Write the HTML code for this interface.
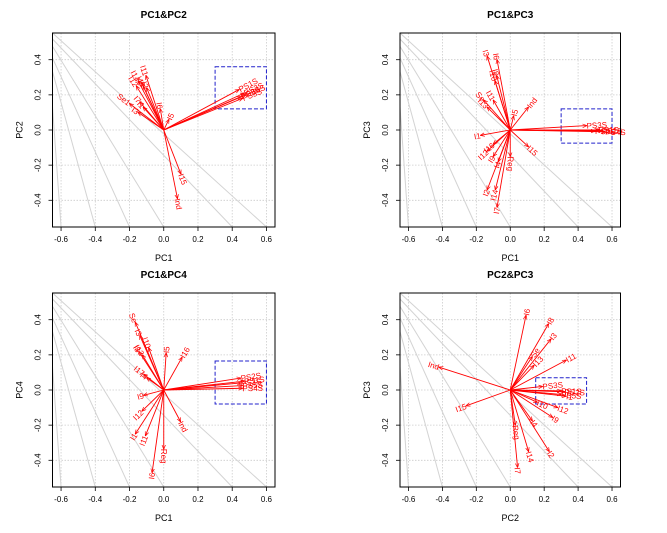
<!DOCTYPE html>
<html><head><meta charset="utf-8"><style>
html,body{margin:0;padding:0;background:#fff;}
svg{display:block;font-family:"Liberation Sans",Arial,sans-serif;}
</style></head><body>
<svg id="s" width="667" height="533" viewBox="0 0 667 533" xmlns="http://www.w3.org/2000/svg">
<defs><marker id="ah" viewBox="0 0 10 10" refX="9" refY="5" markerWidth="5" markerHeight="5" orient="auto"><path d="M0,1 L10,5 L0,9" fill="none" stroke="red" stroke-width="1.5"/></marker></defs>
</svg>
<script>
var S=document.getElementById('s'),NS='http://www.w3.org/2000/svg';
function el(t,a,txt){var e=document.createElementNS(NS,t);for(var k in a)e.setAttribute(k,a[k]);if(txt!=null)e.textContent=txt;S.appendChild(e);return e;}
var panels=[
{x0:52.5,x1:275,y0:33,y1:227,title:'PC1&PC2',xl:'PC1',yl:'PC2',box:[0.3,0.6,0.12,0.36],
arr:[[-0.104,0.31,'I11'],[-0.15,0.28,'I14'],[-0.13,0.27,'I4'],[-0.12,0.25,'I8'],[-0.16,0.25,'I12'],[-0.1,0.24,'I2'],[-0.2,0.15,'Se1'],[-0.14,0.16,'I7'],[-0.12,0.13,'I1'],[-0.15,0.1,'I3'],[-0.02,0.12,'I6'],[0.03,0.06,'I5'],[0.44,0.23,'PS1S'],[0.47,0.21,'PS2S'],[0.45,0.19,'PS3S'],[0.48,0.2,'PS4S'],[0.46,0.18,'PS5S'],[0.1,-0.25,'I15'],[0.08,-0.39,'Ind']]},
{x0:400,x1:620.5,y0:33,y1:227,title:'PC1&PC3',xl:'PC1',yl:'PC3',box:[0.3,0.6,-0.075,0.12],
arr:[[-0.136,0.42,'I3'],[-0.078,0.40,'I6'],[-0.08,0.31,'I8'],[-0.09,0.28,'I10'],[-0.156,0.17,'Se'],[-0.1,0.17,'I11'],[-0.136,0.13,'I13'],[0.107,0.13,'Ind'],[0.02,0.08,'I5'],[0.45,0.025,'PS3S'],[0.52,0,'PS1S'],[0.54,-0.004,'PS2S'],[0.56,-0.01,'PS4S'],[0.5,-0.006,'PS5S'],[-0.175,-0.03,'I1'],[-0.1,-0.08,'I16'],[-0.136,-0.12,'I12'],[-0.1,-0.15,'I9'],[-0.07,-0.18,'I4'],[0.107,-0.095,'I15'],[0,-0.15,'Reg'],[-0.136,-0.34,'I2'],[-0.088,-0.34,'I14'],[-0.078,-0.44,'I7']]},
{x0:52.5,x1:275,y0:293,y1:487,title:'PC1&PC4',xl:'PC1',yl:'PC4',box:[0.3,0.6,-0.08,0.165],
arr:[[-0.166,0.385,'Se'],[-0.14,0.31,'I3'],[-0.088,0.24,'I10'],[-0.146,0.22,'I8'],[-0.125,0.2,'I13'],[0.014,0.21,'I5'],[0.107,0.186,'I16'],[-0.117,0.09,'I17'],[-0.1,0.07,'I4'],[0.45,0.068,'PS2S'],[0.47,0.05,'PS1S'],[0.45,0.04,'PS3S'],[0.46,0.025,'PS5S'],[0.46,0.01,'PS4S'],[-0.117,-0.03,'I9'],[-0.127,-0.12,'I12'],[-0.166,-0.25,'I1'],[-0.107,-0.26,'I11'],[0.098,-0.18,'Ind'],[0,-0.335,'Reg'],[-0.068,-0.47,'I6']]},
{x0:400,x1:620.5,y0:293,y1:487,title:'PC2&PC3',xl:'PC2',yl:'PC3',box:[0.15,0.45,-0.08,0.07],
arr:[[0.093,0.425,'I6'],[0.226,0.377,'I8'],[0.24,0.29,'I3'],[0.13,0.19,'Se'],[0.14,0.14,'I13'],[0.33,0.17,'I11'],[-0.42,0.13,'Ind'],[-0.26,-0.09,'I15'],[0.19,0.02,'PS3S'],[0.3,-0.005,'PS1S'],[0.32,-0.01,'PS2S'],[0.3,-0.025,'PS5S'],[0.33,-0.035,'I1'],[0.16,-0.07,'I10'],[0.28,-0.1,'I12'],[0.25,-0.156,'I9'],[0.13,-0.175,'I4'],[0.03,-0.2,'Reg'],[0.108,-0.35,'I14'],[0.23,-0.35,'I2'],[0.043,-0.44,'I7']]}
];
var grey=[[0.552,0.6],[0.518,0.4],[0.476,0.0],[0.41,-0.2],[0.333,-0.4],[0.133,-0.6]];
panels.forEach(function(p){
 var X=function(v){return p.x0+(v+0.65)/1.3*(p.x1-p.x0);};
 var Y=function(v){return p.y0+(0.552-v)/1.104*(p.y1-p.y0);};
 var cx=(p.x0+p.x1)/2,cy=(p.y0+p.y1)/2;
 el('text',{x:cx,y:p.y0-15,'text-anchor':'middle','font-size':'10','font-weight':'bold'},p.title);
 [-0.6,-0.4,-0.2,0,0.2,0.4,0.6].forEach(function(t){
  el('line',{x1:X(t),x2:X(t),y1:p.y0,y2:p.y1,stroke:'#ccc','stroke-width':0.8,'stroke-dasharray':'1.5,1.5'});
  el('line',{x1:X(t),x2:X(t),y1:p.y1,y2:p.y1+4,stroke:'#000','stroke-width':0.8});
  el('text',{x:X(t),y:p.y1+15,'text-anchor':'middle','font-size':'8'},t.toFixed(1));
 });
 [-0.4,-0.2,0,0.2,0.4].forEach(function(t){
  el('line',{x1:p.x0,x2:p.x1,y1:Y(t),y2:Y(t),stroke:'#ccc','stroke-width':0.8,'stroke-dasharray':'1.5,1.5'});
  el('line',{x1:p.x0-4,x2:p.x0,y1:Y(t),y2:Y(t),stroke:'#000','stroke-width':0.8});
  var tx=p.x0-12,ty=Y(t);
  el('text',{x:tx,y:ty,'text-anchor':'middle','font-size':'8',transform:'rotate(-90 '+tx+' '+ty+')'},t.toFixed(1));
 });
 grey.forEach(function(g){el('line',{x1:X(-0.65),y1:Y(g[0]),x2:X(g[1]),y2:Y(-0.552),stroke:'#d3d3d3','stroke-width':1});});
 el('text',{x:cx,y:p.y1+34,'text-anchor':'middle','font-size':'9'},p.xl);
 var lx=p.x0-30;el('text',{x:lx,y:cy,'text-anchor':'middle','font-size':'9',transform:'rotate(-90 '+lx+' '+cy+')'},p.yl);
 var b=p.box;el('rect',{x:X(b[0]),y:Y(b[3]),width:X(b[1])-X(b[0]),height:Y(b[2])-Y(b[3]),fill:'none',stroke:'#22c','stroke-width':1,'stroke-dasharray':'4,2'});
 p.arr.forEach(function(a){
  var x2=X(a[0]),y2=Y(a[1]),x1=X(0),y1=Y(0);
  el('line',{x1:x1,y1:y1,x2:x2,y2:y2,stroke:'red','stroke-width':0.9,'marker-end':'url(#ah)'});
  var ang=Math.atan2(y2-y1,x2-x1)*180/Math.PI,anc='start';
  if(ang>90||ang<-90){ang+=180;anc='end';}
  el('text',{x:x2,y:y2+3,'text-anchor':anc,'font-size':'8',fill:'red',transform:'rotate('+ang+' '+x2+' '+y2+')'},a[2]);
 });
 el('rect',{x:p.x0,y:p.y0,width:p.x1-p.x0,height:p.y1-p.y0,fill:'none',stroke:'#000','stroke-width':1});
});
</script>
</body></html>
